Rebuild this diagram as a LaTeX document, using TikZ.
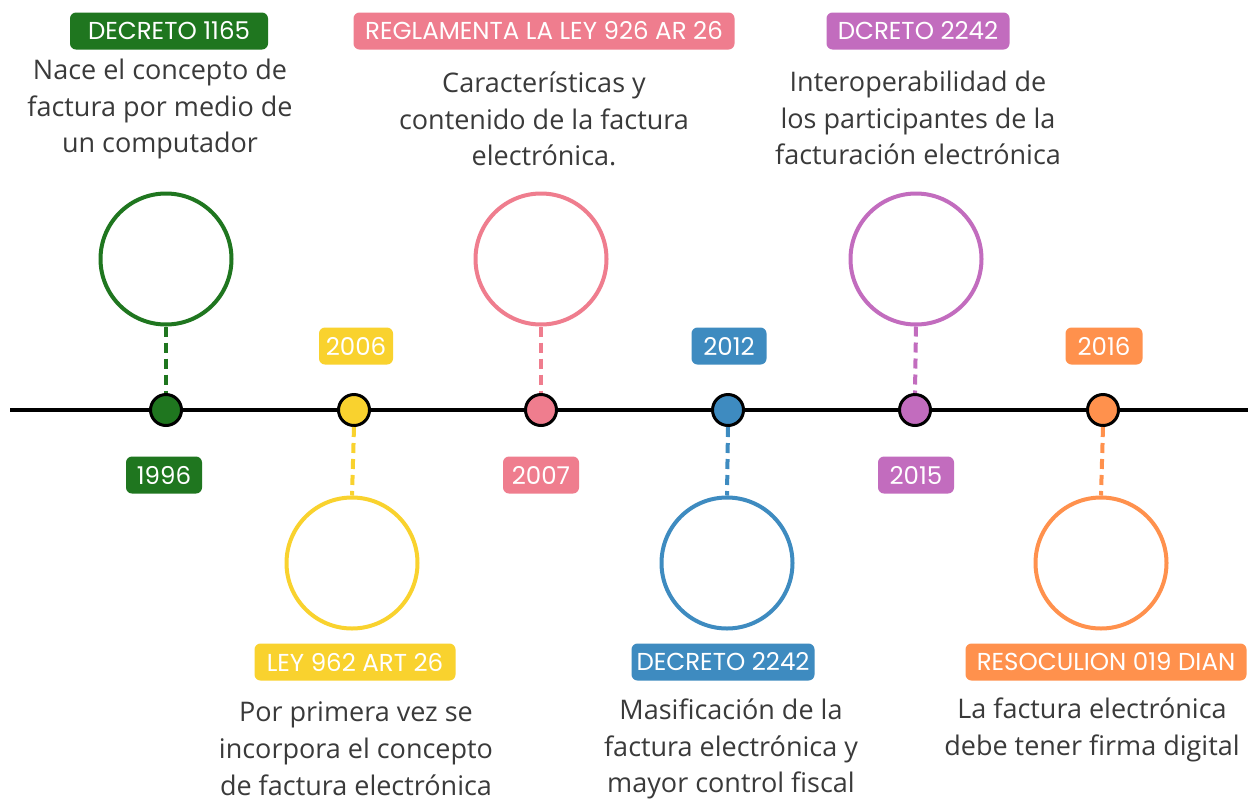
\documentclass[tikz,border=0pt]{standalone}
\usepackage{fontspec}
\setmainfont{Open Sans}
\newfontfamily\labelfont{Poppins}
\definecolor{cgreen}{HTML}{1F761F}
\definecolor{cyellow}{HTML}{F9D22E}
\definecolor{cpink}{HTML}{EF7D8E}
\definecolor{cblue}{HTML}{3E8BC0}
\definecolor{cpurple}{HTML}{C26CBE}
\definecolor{corange}{HTML}{FF914D}
\definecolor{ctext}{HTML}{3A3A3A}
\begin{document}
\begin{tikzpicture}[x=1pt,y=-1pt,
  tag/.style={fill=#1, rounded corners=6pt, text=white, font=\labelfont\fontsize{24.5}{28}\selectfont, minimum height=37pt, inner xsep=4pt, inner ysep=0pt},
  body/.style={text=ctext, align=center, font=\fontsize{27}{36.8}\selectfont, inner sep=0pt},
  bigc/.style={circle, draw=#1, line width=4pt, minimum size=131pt, inner sep=0pt},
  dotc/.style={circle, draw=black, fill=#1, line width=3pt, minimum size=31pt, inner sep=0pt},
  link/.style={draw=#1, line width=4pt, dash pattern=on 10pt off 6pt}]
\useasboundingbox (0,0) rectangle (1248,801);
\fill[white] (0,0) rectangle (1248,801);
\coordinate (L) at (10,410);
\coordinate (R) at (1248,410);
\draw[line width=4pt] (L) -- (R);
% dots
\node[dotc=cgreen] (d1) at (166,410) {};
\node[dotc=cyellow] (d2) at (354,410) {};
\node[dotc=cpink] (d3) at (541,410) {};
\node[dotc=cblue] (d4) at (728,410) {};
\node[dotc=cpurple] (d5) at (915,410) {};
\node[dotc=corange] (d6) at (1103,410) {};
% big circles
\node[bigc=cgreen] (c1) at (166,259) {};
\node[bigc=cyellow] (c2) at (352,563) {};
\node[bigc=cpink] (c3) at (541,259) {};
\node[bigc=cblue] (c4) at (727,563) {};
\node[bigc=cpurple] (c5) at (916,259) {};
\node[bigc=corange] (c6) at (1101,563) {};
% links
\draw[link=cgreen] (c1.south) -- (d1.north);
\draw[link=cyellow] (d2.south) -- (c2.north);
\draw[link=cpink] (c3.south) -- (d3.north);
\draw[link=cblue] (d4.south) -- (c4.north);
\draw[link=cpurple] (c5.south) -- (d5.north);
\draw[link=corange] (d6.south) -- (c6.north);
% years
\node[tag=cgreen, minimum width=76pt] (y1) at (164,475) {1996};
\node[tag=cyellow, minimum width=74pt] (y2) at (356,346) {2006};
\node[tag=cpink, minimum width=76pt] (y3) at (541,475) {2007};
\node[tag=cblue, minimum width=75pt] (y4) at (729,346) {2012};
\node[tag=cpurple, minimum width=76pt] (y5) at (916,475) {2015};
\node[tag=corange, minimum width=77pt] (y6) at (1104,346) {2016};
% titles
\node[tag=cgreen, minimum width=198pt] (t1) at (169,31) {DECRETO 1165};
\node[tag=cyellow, minimum width=201pt] (t2) at (355,662) {LEY 962 ART 26};
\node[tag=cpink, minimum width=381pt] (t3) at (544,31) {REGLAMENTA LA LEY 926 AR 26};
\node[tag=cblue, minimum width=183pt] (t4) at (723,662) {DECRETO 2242};
\node[tag=cpurple, minimum width=183pt] (t5) at (918,31) {DCRETO 2242};
\node[tag=corange, minimum width=281pt] (t6) at (1106,662) {RESOCULION 019 DIAN};
% bodies
\node[body] (b1) at (160,109) {Nace el concepto de\\factura por medio de\\un computador};
\node[body] (b2) at (356,749) {Por primera vez se\\incorpora el concepto\\de factura electrónica};
\node[body] (b3) at (544,119) {Características y\\contenido de la factura\\electrónica.};
\node[body] (b4) at (731,749) {Masificación de la\\factura electrónica y\\mayor control fiscal};
\node[body] (b5) at (918,118) {Interoperabilidad de\\los participantes de la\\facturación electrónica};
\node[body] (b6) at (1092,730) {La factura electrónica\\debe tener firma digital};
\end{tikzpicture}
\end{document}
